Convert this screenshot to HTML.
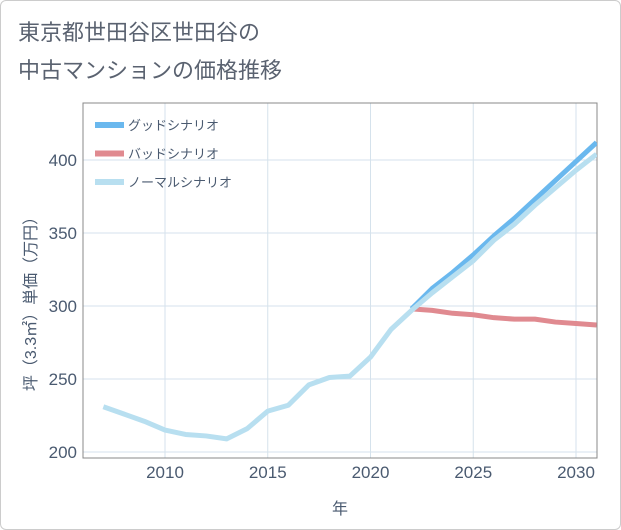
<!DOCTYPE html>
<html><head><meta charset="utf-8"><style>
body{margin:0;background:#fff;font-family:"Liberation Sans","Noto Sans CJK JP",sans-serif;}
#wrap{position:relative;width:619px;height:528px;border:1px solid #ccc;border-radius:6px;overflow:hidden;background:#fff}
</style></head><body>
<div id="wrap">
<svg id="chart" width="621" height="530" style="position:absolute;left:-1px;top:-1px">
<text x="18" y="40" font-size="22" fill="#5a6270">東京都世田谷区世田谷の</text>
<text x="18" y="78" font-size="22" fill="#5a6270">中古マンションの価格推移</text>
<g id="grid"></g>
<rect x="83" y="103" width="514" height="355" fill="none" stroke="#888" stroke-width="1"/>
<g id="series"></g>
<g id="axes"></g>
<text x="340" y="514" font-size="16" fill="#4a5a70" text-anchor="middle">年</text>
<text transform="translate(36,300) rotate(-90)" font-size="16" fill="#4a5a70" text-anchor="middle">坪（3.3㎡）単価（万円）</text>
<g id="legend"></g>
</svg>
</div>
<script>
const years=[2007,2008,2009,2010,2011,2012,2013,2014,2015,2016,2017,2018,2019,2020,2021,2022,2023,2024,2025,2026,2027,2028,2029,2030,2031];
const normalValues=[231,226,221,215,212,211,209,216,228,232,246,251,252,265,284,297,309,320,331,345,356,369,381,393,404];
const goodYears=[2022,2023,2024,2025,2026,2027,2028,2029,2030,2031];
const goodValues=[298,312,323,335,348,360,373,386,399,412];
const badValues=[298,297,295,294,292,291,291,289,288,287];
const xTicks=[2010,2015,2020,2025,2030];
const yTicks=[200,250,300,350,400];
const NS="http://www.w3.org/2000/svg";
const L=83,R=597,T=103,B=458;
const x=v=>165+(v-2010)*20.55;
const y=v=>452-(v-200)*1.46;
function mk(t,a,p){const e=document.createElementNS(NS,t);for(const k in a)e.setAttribute(k,a[k]);p.appendChild(e);return e;}
const grid=document.getElementById('grid'),axes=document.getElementById('axes'),ser=document.getElementById('series'),leg=document.getElementById('legend');
xTicks.forEach(t=>{
 const g=mk('line',{x1:x(t),x2:x(t),y1:T,y2:B,stroke:'#d5e2ec','stroke-width':1},grid);
 
 
 const l=mk('text',{x:x(t),y:478,'font-size':17,fill:'#4a5a70','text-anchor':'middle'},axes);l.textContent=t;
 
 
});
yTicks.forEach(t=>{
 const g=mk('line',{x1:L,x2:R,y1:y(t),y2:y(t),stroke:'#d5e2ec','stroke-width':1},grid);
 
 
 const l=mk('text',{x:77,y:y(t)+6,'font-size':17,fill:'#4a5a70','text-anchor':'end'},axes);l.textContent=t;
 
 
});
function line(xs,vs,c,name){
 const p=mk('polyline',{points:xs.map((v,i)=>x(v)+','+y(vs[i])).join(' '),fill:'none',stroke:c,'stroke-width':5,'stroke-linejoin':'round'},ser);
 
 
}
const clip=mk('clipPath',{id:'pc'},document.getElementById('chart'));mk('rect',{x:L,y:T,width:R-L,height:B-T},clip);
ser.setAttribute('clip-path','url(#pc)');
line(goodYears,badValues,'#e08a90','bad-scenario-line');
line(goodYears,goodValues,'#6ab8ee','good-scenario-line');
line(years,normalValues,'#b8dff0','normal-scenario-line');
[['グッドシナリオ','#6ab8ee','legend-good'],['バッドシナリオ','#e08a90','legend-bad'],['ノーマルシナリオ','#b8dff0','legend-normal']].forEach((d,i)=>{
 const yy=125+i*28.5;
 const r=mk('rect',{x:95,y:yy-3,width:29,height:6,fill:d[1]},leg);
 
 
 const t=mk('text',{x:128,y:yy+5,'font-size':13,fill:'#4a5a70'},leg);t.textContent=d[0];
 
 
});
</script>
</body></html>
